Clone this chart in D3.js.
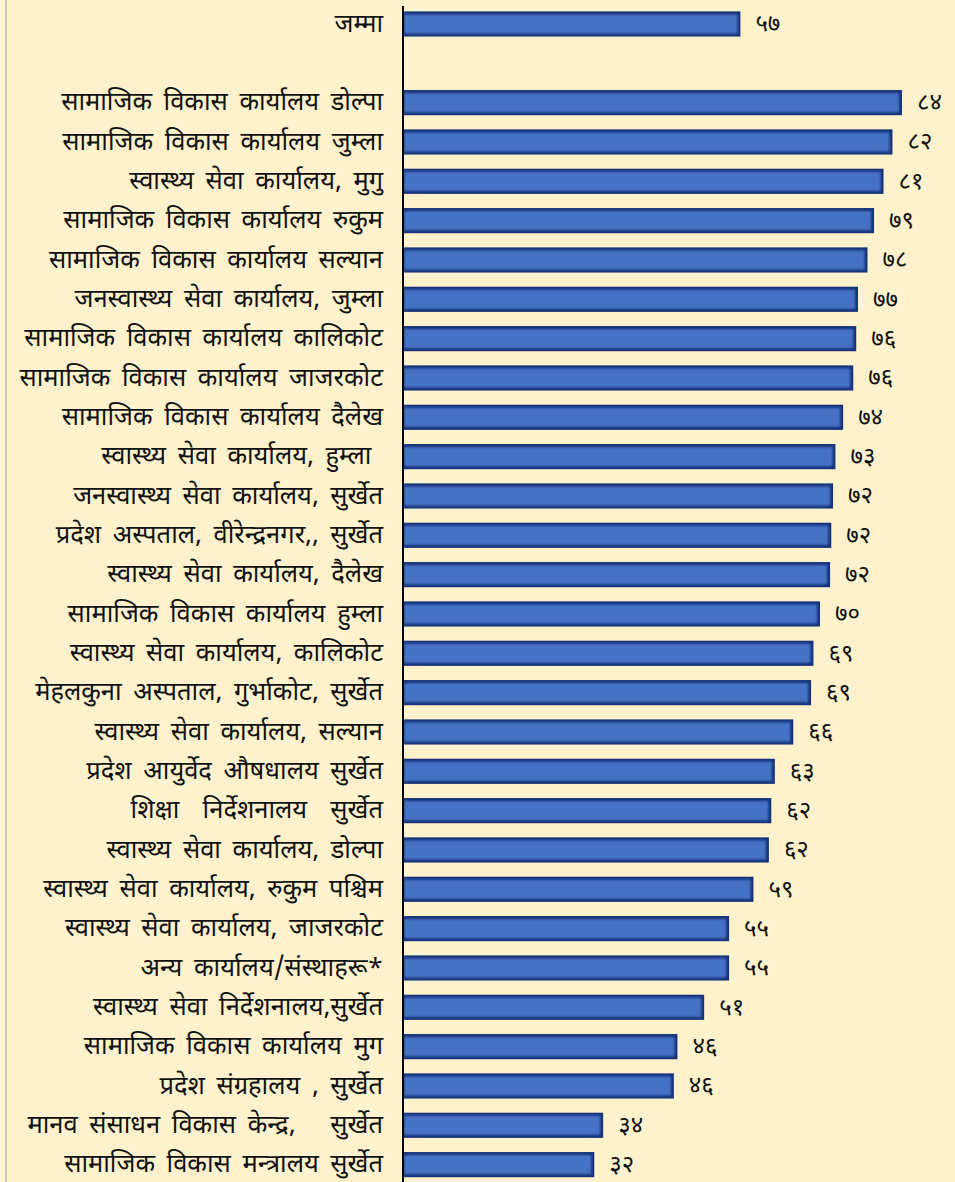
<!DOCTYPE html>
<html>
<head>
<meta charset="utf-8">
<script src="https://cdn.jsdelivr.net/npm/d3@7"></script>
<style>
    html, body { margin: 0; padding: 0; background: #fff2cc; }
    #chart-area { width: 955px; height: 1182px; }
    .label { font-family: "Noto Sans Devanagari", "Lohit Devanagari", "Mangal", "Noto Sans", sans-serif; font-size: 25.5px; word-spacing: 5px; white-space: pre; fill: #111; }
    .value { font-family: "Noto Sans Devanagari", "Lohit Devanagari", "Mangal", "Noto Sans", sans-serif; font-size: 24px; fill: #111; }
</style>
</head>
<body>
<div id="chart-area"></div>
<script>

// total row (shown on top, separated by an empty row)
let totalLabel = "जम्मा";
let totalValue = 56.8;

// offices, sorted as in the source
let offices = ["सामाजिक विकास कार्यालय डोल्पा", "सामाजिक विकास कार्यालय जुम्ला", "स्वास्थ्य सेवा कार्यालय, मुगु",
    "सामाजिक विकास कार्यालय रुकुम", "सामाजिक विकास कार्यालय सल्यान", "जनस्वास्थ्य सेवा कार्यालय, जुम्ला",
    "सामाजिक विकास कार्यालय कालिकोट", "सामाजिक विकास कार्यालय जाजरकोट", "सामाजिक विकास कार्यालय दैलेख",
    "स्वास्थ्य सेवा कार्यालय, हुम्ला ", "जनस्वास्थ्य सेवा कार्यालय, सुर्खेत", "प्रदेश अस्पताल, वीरेन्द्रनगर,, सुर्खेत",
    "स्वास्थ्य सेवा कार्यालय, दैलेख", "सामाजिक विकास कार्यालय हुम्ला", "स्वास्थ्य सेवा कार्यालय, कालिकोट",
    "मेहलकुना अस्पताल, गुर्भाकोट, सुर्खेत", "स्वास्थ्य सेवा कार्यालय, सल्यान", "प्रदेश आयुर्वेद औषधालय सुर्खेत",
    "शिक्षा  निर्देशनालय  सुर्खेत", "स्वास्थ्य सेवा कार्यालय, डोल्पा", "स्वास्थ्य सेवा कार्यालय, रुकुम पश्चिम",
    "स्वास्थ्य सेवा कार्यालय, जाजरकोट", "अन्य कार्यालय/संस्थाहरू*", "स्वास्थ्य सेवा निर्देशनालय,सुर्खेत",
    "सामाजिक विकास कार्यालय मुग", "प्रदेश संग्रहालय , सुर्खेत", "मानव संसाधन विकास केन्द्र,   सुर्खेत",
    "सामाजिक विकास मन्त्रालय सुर्खेत"];

let officeValues = [84.0, 82.4, 80.9, 79.3, 78.2, 76.6, 76.3, 75.8, 74.1, 72.8, 72.4, 72.1, 71.9, 70.2,
    69.1, 68.7, 65.7, 62.6, 62.0, 61.6, 59.0, 54.9, 54.9, 50.7, 46.2, 45.6, 33.7, 32.2];

let devDigits = ["०", "१", "२", "३", "४", "५", "६", "७", "८", "९"];


class BarChart {

    constructor(parentElement) {
        this.parentElement = parentElement;
        this.initVis();
    }

    initVis() {
        let vis = this;

        vis.width = 955;
        vis.height = 1182;
        vis.axisX = 403;

        vis.svg = d3.select("#" + vis.parentElement).append("svg")
            .attr("width", vis.width)
            .attr("height", vis.height);

        vis.svg.append("rect")
            .attr("width", vis.width)
            .attr("height", vis.height)
            .attr("fill", "#fff2cc");

        // soft edge for the inner part of each bar
        vis.svg.append("defs").append("filter")
            .attr("id", "soft")
            .attr("x", "-10%").attr("y", "-30%")
            .attr("width", "120%").attr("height", "160%")
            .append("feGaussianBlur")
            .attr("stdDeviation", 1.3);

        vis.x = d3.scaleLinear()
            .domain([0, 90])
            .range([vis.axisX, vis.axisX + 534.6]);

        vis.y = d3.scaleBand()
            .range([4.3, 1184.3])
            .paddingInner(0.36)
            .paddingOuter(0.18);

        vis.wrangleData();
    }

    wrangleData() {
        let vis = this;

        vis.displayData = [{key: "total", label: totalLabel, value: totalValue}, {key: "gap", label: "", value: null}];
        offices.forEach((d, i) => vis.displayData.push({key: "o" + i, label: d, value: officeValues[i]}));

        vis.y.domain(vis.displayData.map(d => d.key));

        vis.updateVis();
    }

    toDev(v) {
        return String(Math.round(v)).split("").map(c => devDigits[+c]).join("");
    }

    updateVis() {
        let vis = this;
        let bars = vis.displayData.filter(d => d.value !== null);

        // thin grey frame line at the left edge
        vis.svg.append("line")
            .attr("x1", 6).attr("x2", 6)
            .attr("y1", 0).attr("y2", vis.height)
            .attr("stroke", "#c4c4c4")
            .attr("stroke-width", 2);

        vis.svg.selectAll(".bar-outer")
            .data(bars)
            .enter().append("rect")
            .attr("class", "bar-outer")
            .attr("x", vis.x(0))
            .attr("y", d => vis.y(d.key))
            .attr("width", d => vis.x(d.value) - vis.x(0))
            .attr("height", vis.y.bandwidth())
            .attr("fill", "#16337a");

        vis.svg.selectAll(".bar-inner")
            .data(bars)
            .enter().append("rect")
            .attr("class", "bar-inner")
            .attr("x", vis.x(0) + 1)
            .attr("y", d => vis.y(d.key) + 3)
            .attr("width", d => vis.x(d.value) - vis.x(0) - 4)
            .attr("height", vis.y.bandwidth() - 6)
            .attr("fill", "#4472c4")
            .attr("filter", "url(#soft)");

        vis.svg.selectAll(".label")
            .data(vis.displayData)
            .enter().append("text")
            .attr("class", "label")
            .attr("x", vis.axisX - 20)
            .attr("y", d => vis.y(d.key) + vis.y.bandwidth() / 2)
            .attr("dy", "0.3em")
            .attr("text-anchor", "end")
            .text(d => d.label);

        vis.svg.selectAll(".value")
            .data(bars)
            .enter().append("text")
            .attr("class", "value")
            .attr("x", d => vis.x(d.value) + 15)
            .attr("y", d => vis.y(d.key) + vis.y.bandwidth() / 2)
            .attr("dy", "0.3em")
            .text(d => vis.toDev(d.value));

        vis.svg.append("line")
            .attr("x1", vis.axisX).attr("x2", vis.axisX)
            .attr("y1", 6).attr("y2", vis.height)
            .attr("stroke", "black")
            .attr("stroke-width", 2);
    }
}

let barChart = new BarChart("chart-area");

</script>
</body>
</html>
